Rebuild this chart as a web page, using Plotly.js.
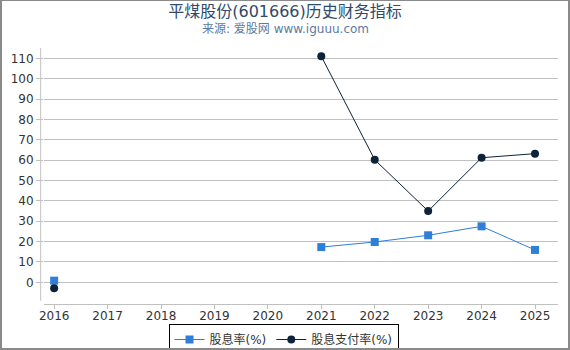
<!DOCTYPE html>
<html>
<head>
<meta charset="utf-8">
<script src="https://cdn.plot.ly/plotly-3.0.1.min.js"></script>
<style>
html,body{margin:0;padding:0;background:#fff;}
#chart{position:absolute;left:0;top:0;width:570px;height:350px;}
#frame{position:absolute;left:0;top:0;width:570px;height:350px;box-sizing:border-box;border:2px solid #8a8a8a;border-top-width:1px;pointer-events:none;}
</style>
</head>
<body>
<div id="chart"></div>
<div id="frame"></div>
<script>
var years = [2016, 2017, 2018, 2019, 2020, 2021, 2022, 2023, 2024, 2025];
var dividendYield = [0.8, null, null, null, null, 17.3, 19.8, 23.1, 27.5, 15.9];
var payoutRatio = [-2.9, null, null, null, null, 111.0, 60.2, 35.0, 61.2, 63.2];
var xTicks = [2016, 2017, 2018, 2019, 2020, 2021, 2022, 2023, 2024, 2025];
var yTicks = [0, 10, 20, 30, 40, 50, 60, 70, 80, 90, 100, 110];
var seriesNames = ['股息率(%)', '股息支付率(%)'];

var FONT = 'DejaVu Sans, Noto Sans CJK SC, sans-serif';

var traces = [
  {
    x: years, y: dividendYield, name: seriesNames[0], type: 'scatter', mode: 'lines+markers',
    connectgaps: false,
    line: {color: '#2f7ed8', width: 1},
    marker: {symbol: 'square', size: 8, color: '#2f7ed8'}
  },
  {
    x: years, y: payoutRatio, name: seriesNames[1], type: 'scatter', mode: 'lines+markers',
    connectgaps: false,
    line: {color: '#0d233a', width: 1},
    marker: {symbol: 'circle', size: 8, color: '#0d233a'}
  }
];

var layout = {
  width: 570, height: 350,
  margin: {l: 44, r: 12, t: 48, b: 46, autoexpand: false},
  paper_bgcolor: '#fff', plot_bgcolor: '#fff',
  font: {family: FONT, size: 12, color: '#333'},
  title: {
    text: '平煤股份(601666)历史财务指标',
    font: {family: FONT, size: 16, color: '#2f4a6b'},
    x: 0.5, xanchor: 'center', xref: 'container',
    y: 1 - 11/350, yanchor: 'middle', yref: 'container'
  },
  annotations: [{
    text: '来源: 爱股网 www.iguuu.com',
    xref: 'paper', yref: 'paper', x: (285 - 44)/514, xanchor: 'center',
    y: 1 + (48 - 28.5)/256, yanchor: 'middle', showarrow: false,
    font: {family: FONT, size: 12, color: '#5b7ba3'}
  }],
  xaxis: {
    range: [2015.81, 2025.43],
    tickvals: xTicks, ticktext: xTicks.map(String),
    showgrid: false, zeroline: false,
    showline: true, linecolor: '#c0c0c0', linewidth: 1,
    ticks: 'outside', ticklen: 4, tickcolor: '#c0c0c0',
    ticklabelstandoff: -3,
    tickfont: {family: FONT, size: 12, color: '#333'}
  },
  yaxis: {
    range: [-10.66, 115.1],
    tickvals: yTicks, ticktext: yTicks.map(String),
    showgrid: true, gridcolor: '#c0c0c0', gridwidth: 1,
    zeroline: false, showline: false,
    ticks: 'outside', ticklen: 7, tickcolor: '#c0c0c0',
    tickfont: {family: FONT, size: 12, color: '#333'}
  },
  shapes: [{
    type: 'line', xref: 'paper', yref: 'paper',
    x0: -3.3/514, x1: -3.3/514, y0: (304-300.7)/256, y1: (304-48)/256,
    line: {color: '#c0c0c0', width: 1}
  }],
  showlegend: true,
  legend: {
    orientation: 'h', xref: 'container', x: 283.5/570, xanchor: 'center',
    yref: 'container', y: (350-324)/350, yanchor: 'top',
    bordercolor: '#000', borderwidth: 1, bgcolor: '#fff',
    font: {family: FONT, size: 12, color: '#333'},
    itemwidth: 30, tracegroupgap: 0
  }
};

Plotly.newPlot('chart', traces, layout, {displayModeBar: false, staticPlot: true});
</script>
</body>
</html>
